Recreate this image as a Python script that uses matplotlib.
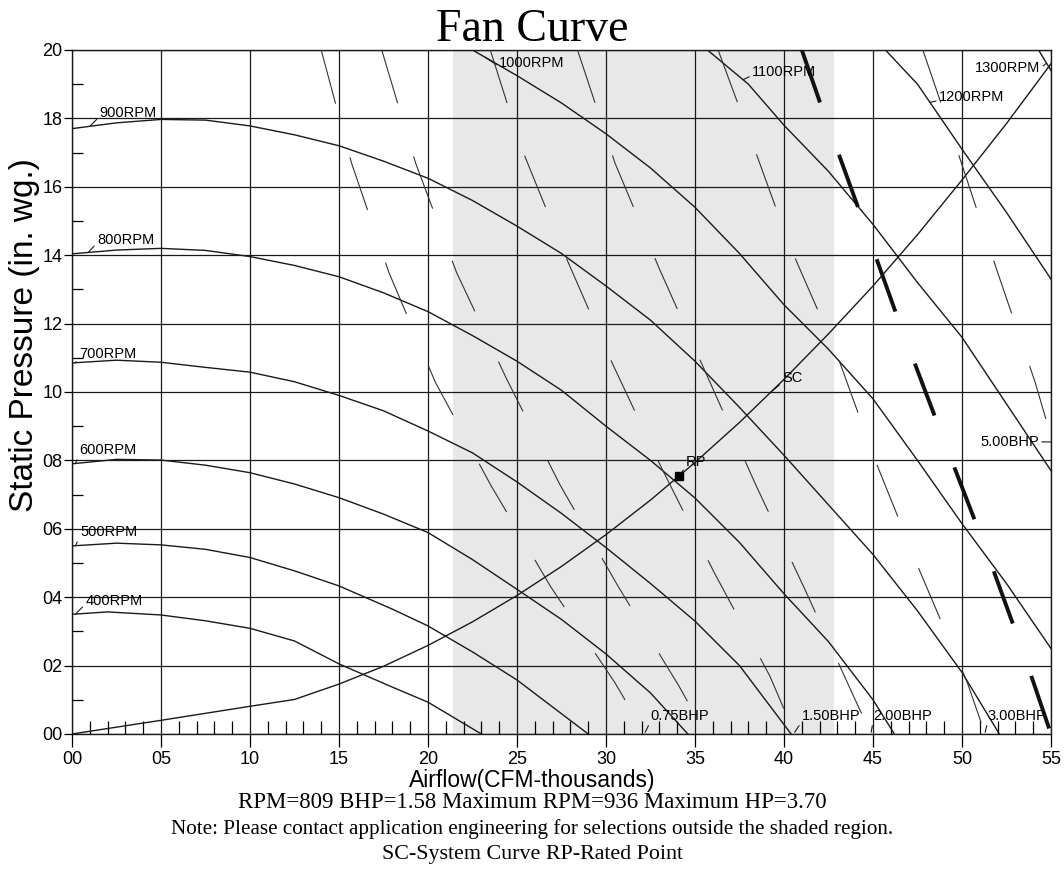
import numpy as np
import matplotlib
matplotlib.use('Agg')
import matplotlib.pyplot as plt

plt.rcParams['font.family'] = ['Liberation Sans', 'DejaVu Sans']
plt.rcParams['lines.scale_dashes'] = False

# fan curves: airflow (CFM-thousands) vs static pressure (in. wg.)
rpm400_x = [0, 2, 5, 7.5, 10, 12.5, 15, 18, 20, 23]
rpm400_y = [0.35, 0.357, 0.348, 0.331, 0.309, 0.272, 0.205, 0.137, 0.093, 0.0]
rpm500_x = [0, 2.5, 5, 7.5, 10, 12.5, 15, 18, 20, 22.5, 25, 29]
rpm500_y = [0.55, 0.558, 0.553, 0.54, 0.516, 0.477, 0.433, 0.365, 0.316, 0.24, 0.158, 0.0]
rpm600_x = [0, 2.5, 5, 7.5, 10, 12.5, 15, 17.5, 20, 22.5, 25, 27.5, 30, 32.5, 34.6]
rpm600_y = [0.79, 0.803, 0.801, 0.786, 0.764, 0.731, 0.691, 0.643, 0.589, 0.51, 0.423, 0.335, 0.234, 0.12, 0.0]
rpm700_x = [0, 2.5, 5, 7.5, 10, 12.5, 15, 17.5, 20, 22.5, 25, 27.5, 30, 32.5, 35, 37.5, 40.4]
rpm700_y = [1.085, 1.093, 1.087, 1.072, 1.058, 1.03, 0.99, 0.945, 0.886, 0.822, 0.737, 0.645, 0.545, 0.44, 0.33, 0.2, 0.0]
rpm800_x = [0, 2.5, 5, 7.5, 10, 12.5, 15, 17.5, 20, 22.5, 25, 27.5, 30, 32.5, 35, 37.5, 40, 42.5, 45, 46.2]
rpm800_y = [1.404, 1.415, 1.42, 1.414, 1.396, 1.37, 1.337, 1.29, 1.235, 1.165, 1.09, 1.005, 0.9, 0.8, 0.69, 0.56, 0.41, 0.27, 0.1, 0.0]
rpm900_x = [0, 2.5, 5, 7.5, 10, 12.5, 15, 17.5, 20, 22.5, 25, 27.5, 30, 32.5, 35, 37.5, 40, 42.5, 45, 47.5, 50, 52.1]
rpm900_y = [1.77, 1.787, 1.797, 1.795, 1.778, 1.752, 1.72, 1.675, 1.625, 1.56, 1.485, 1.405, 1.31, 1.21, 1.09, 0.955, 0.815, 0.67, 0.525, 0.36, 0.18, 0.0]
rpm1000_x = [22.5, 25, 27.5, 30, 32.5, 35, 37.5, 40, 42.5, 45, 47.5, 50, 52.5, 55]
rpm1000_y = [2.0, 1.925, 1.845, 1.755, 1.655, 1.54, 1.405, 1.255, 1.125, 0.98, 0.8, 0.615, 0.44, 0.25]
rpm1100_x = [35.7, 38, 40, 42.5, 45, 47.5, 50, 52.5, 55]
rpm1100_y = [2.0, 1.9, 1.78, 1.645, 1.49, 1.32, 1.16, 0.965, 0.77]
rpm1200_x = [45.7, 47.5, 50, 52.5, 55]
rpm1200_y = [2.0, 1.9, 1.71, 1.525, 1.33]
rpm1300_x = [54.3, 55.0]
rpm1300_y = [2.0, 1.94]

# constant brake horsepower lines
bhp075_x = [14.0, 15.7, 17.8, 20.4, 23.5, 26.9, 30.5, 32.2]
bhp075_y = [2.0, 1.67, 1.35, 1.03, 0.73, 0.43, 0.15, 0.0]
bhp100_x = [17.4, 19.3, 21.6, 24.4, 27.4, 30.7, 34.1, 35.6]
bhp100_y = [2.0, 1.67, 1.35, 1.04, 0.73, 0.43, 0.14, 0.0]
bhp150_x = [23.5, 25.2, 27.7, 30.3, 33.1, 36.1, 39.2, 40.6]
bhp150_y = [2.0, 1.72, 1.40, 1.09, 0.78, 0.47, 0.17, 0.0]
bhp200_x = [28.4, 30.5, 33.0, 36.0, 38.4, 41.2, 44.0, 44.9]
bhp200_y = [2.0, 1.67, 1.36, 1.01, 0.73, 0.42, 0.10, 0.0]
bhp300_x = [36.3, 38.0, 40.3, 42.9, 45.2, 47.6, 50.3, 51.3]
bhp300_y = [2.0, 1.76, 1.43, 1.12, 0.79, 0.48, 0.15, 0.0]
bhpmax_x = [41.0, 42.0, 44.3, 46.5, 48.9, 51.2, 53.5, 55.0]
bhpmax_y = [2.0, 1.85, 1.52, 1.20, 0.87, 0.56, 0.23, 0.0]
bhp500_x = [47.8, 49.9, 52.0, 54.1, 55.0]
bhp500_y = [2.0, 1.68, 1.35, 1.03, 0.87]

# system curve and rated point
sc_x = [0, 5, 10, 12.5, 15, 17.5, 20, 22.5, 25, 27.5, 30, 32.5, 35, 37.5, 40,
        42.5, 45, 47.5, 50, 52.5, 55]
sc_y = [0, 0.04, 0.081, 0.101, 0.146, 0.198, 0.259, 0.328, 0.405, 0.49, 0.583,
        0.684, 0.794, 0.911, 1.037, 1.17, 1.31, 1.46, 1.62, 1.785, 1.96]
rp_x = 34.1
rp_y = 0.754

shade_lo, shade_hi = 21.4, 42.8

x_ticks = [0, 5, 10, 15, 20, 25, 30, 35, 40, 45, 50, 55]
x_ticklabels = ['00', '05', '10', '15', '20', '25', '30', '35', '40', '45', '50', '55']
y_ticks = [0, 0.2, 0.4, 0.6, 0.8, 1.0, 1.2, 1.4, 1.6, 1.8, 2.0]
y_ticklabels = ['00', '02', '04', '06', '08', '10', '12', '14', '16', '18', '20']

fig = plt.figure(figsize=(10.64, 8.81), dpi=100)
ax = fig.add_axes([72 / 1064, 1 - 734 / 881, (1051 - 72) / 1064, (734 - 50) / 881])

ax.axvspan(shade_lo, shade_hi, color='#e8e8e8', zorder=0, lw=0)

rpm_curves = [
    ('400RPM', rpm400_x, rpm400_y),
    ('500RPM', rpm500_x, rpm500_y),
    ('600RPM', rpm600_x, rpm600_y),
    ('700RPM', rpm700_x, rpm700_y),
    ('800RPM', rpm800_x, rpm800_y),
    ('900RPM', rpm900_x, rpm900_y),
    ('1000RPM', rpm1000_x, rpm1000_y),
    ('1100RPM', rpm1100_x, rpm1100_y),
    ('1200RPM', rpm1200_x, rpm1200_y),
    ('1300RPM', rpm1300_x, rpm1300_y),
]
for name, xs, ys in rpm_curves:
    ax.plot(xs, ys, color='#1a1a1a', lw=1.0, zorder=3)

bhp_lines = [bhp075_x, bhp100_x, bhp150_x, bhp200_x, bhp300_x, bhp500_x]
bhp_vals = [bhp075_y, bhp100_y, bhp150_y, bhp200_y, bhp300_y, bhp500_y]
for xs, ys in zip(bhp_lines, bhp_vals):
    ax.plot(xs, ys, color='#333333', lw=0.8, dashes=(40, 40), zorder=3)
ax.plot(bhpmax_x, bhpmax_y, color='#111111', lw=2.8, dashes=(40, 40), zorder=3)

ax.plot(sc_x, sc_y, color='#1a1a1a', lw=1.0, zorder=3)
ax.plot([rp_x], [rp_y], marker='s', color='black', markersize=6, zorder=5)

ax.set_xlim(0, 55)
ax.set_ylim(0, 2.0)
ax.set_xticks(x_ticks)
ax.set_xticklabels(x_ticklabels)
ax.set_yticks(y_ticks)
ax.set_yticklabels(y_ticklabels)
ax.set_xticks(np.arange(0, 56, 1), minor=True)
ax.set_yticks(np.arange(0.1, 2.0, 0.2), minor=True)
ax.grid(True, which='major', color='#1a1a1a', lw=0.9)
ax.set_axisbelow(False)
ax.tick_params(axis='x', which='major', direction='out', length=9, width=0.9, pad=3, labelsize=13)
ax.tick_params(axis='y', which='major', direction='out', length=6, width=0.9, pad=1, labelsize=13)
ax.tick_params(axis='x', which='minor', direction='in', length=9.5, width=0.9)
ax.tick_params(axis='y', which='minor', direction='in', length=8, width=0.9)
for s in ax.spines.values():
    s.set_color('#1a1a1a')
    s.set_linewidth(1.0)

lead = dict(arrowstyle='-', lw=0.8, color='#1a1a1a', shrinkA=0, shrinkB=0)

# RPM labels: (text x, text y, x on curve where the leader starts)
rpm_label_pos = {
    '400RPM': (0.75, 0.39, 0.2),
    '500RPM': (0.45, 0.59, 0.2),
    '600RPM': (0.4, 0.83, 0.2),
    '700RPM': (0.4, 1.11, 0.2),
    '800RPM': (1.4, 1.445, 0.9),
    '900RPM': (1.55, 1.816, 1.0),
    '1000RPM': (24.0, 1.962, 23.2),
    '1100RPM': (38.2, 1.936, 37.7),
    '1200RPM': (48.7, 1.863, 48.2),
}
for name, xs, ys in rpm_curves:
    if name not in rpm_label_pos:
        continue
    tx, ty, cx = rpm_label_pos[name]
    cy = np.interp(cx, xs, ys)
    ax.annotate(name, xy=(cx, cy), xytext=(tx, ty), fontsize=10.5, ha='left',
                va='center', zorder=6,
                arrowprops=dict(lead, relpos=(0, 0.25)))
ax.annotate('1300RPM', xy=(54.75, np.interp(54.75, rpm1300_x, rpm1300_y)),
            xytext=(54.4, 1.947), fontsize=10.5, ha='right', va='center', zorder=6,
            arrowprops=dict(lead, relpos=(1, 0.5)))

bhp_labels = [('0.75BHP', bhp075_x, 32.5), ('1.50BHP', bhp150_x, 41.0),
              ('2.00BHP', bhp200_x, 45.0), ('3.00BHP', bhp300_x, 51.45)]
for name, xs, tx in bhp_labels:
    ax.annotate(name, xy=(xs[-1], 0.005), xytext=(tx, 0.053), fontsize=10.5,
                ha='left', va='center', zorder=6,
                arrowprops=dict(lead, relpos=(0, 0.1)))
ax.annotate('5.00BHP', xy=(55, 0.854), xytext=(54.33, 0.854), fontsize=10.5,
            ha='right', va='center', zorder=6,
            arrowprops=dict(lead, relpos=(1, 0.5)))

ax.annotate('SC', xy=(39.2, np.interp(39.2, sc_x, sc_y)), xytext=(39.9, 1.04),
            fontsize=10.5, ha='left', va='center', zorder=6,
            arrowprops=dict(lead, relpos=(0, 0.2)))
ax.annotate('RP', xy=(rp_x, rp_y), xytext=(34.5, 0.795), fontsize=10.5,
            ha='left', va='center', zorder=6,
            arrowprops=dict(lead, relpos=(0, 0.2), shrinkB=3))

serif = ['Liberation Serif', 'DejaVu Serif']
fig.text(0.5, 1 - 41 / 881, 'Fan Curve', family=serif, fontsize=33,
         ha='center', va='baseline')
fig.text(0.5, 1 - 780 / 881, 'Airflow(CFM-thousands)', fontsize=16.5,
         ha='center', va='center')
fig.text(25 / 1064, 1 - 335 / 881, 'Static Pressure (in. wg.)', fontsize=24,
         rotation=90, ha='center', va='center')
fig.text(0.5, 1 - 803 / 881, 'RPM=809 BHP=1.58 Maximum RPM=936 Maximum HP=3.70',
         family=serif, fontsize=16.4, ha='center', va='center')
fig.text(0.5, 1 - 829 / 881,
         'Note: Please contact application engineering for selections outside the shaded region.',
         family=serif, fontsize=15.2, ha='center', va='center')
fig.text(0.5, 1 - 855 / 881, 'SC-System Curve RP-Rated Point',
         family=serif, fontsize=15.8, ha='center', va='center')

fig.savefig('out.png', dpi=100)
